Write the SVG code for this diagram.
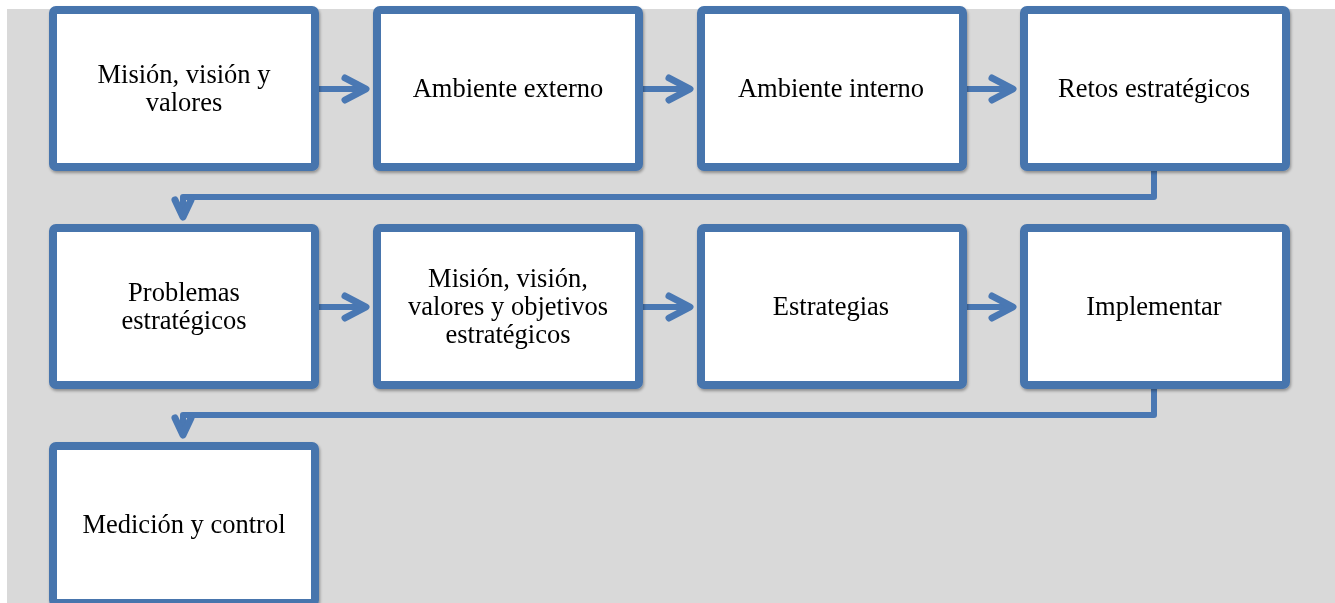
<svg xmlns="http://www.w3.org/2000/svg" width="1335" height="603" viewBox="0 0 1335 603">
  <style>
    .box { fill: #ffffff; stroke: #4674AD; stroke-width: 8; }
    .lbl { font-family: "Liberation Serif", "Times New Roman", serif; font-size: 26.5px; fill: #000000; text-anchor: middle; }
    .line { fill: none; stroke: #4A78B3; stroke-width: 6; stroke-linejoin: round; }
    .head { fill: none; stroke: #4A78B3; stroke-width: 7; stroke-linecap: round; stroke-linejoin: round; }
  </style>
  <defs>
    <filter id="shadow" x="-10%" y="-10%" width="120%" height="125%">
      <feGaussianBlur in="SourceAlpha" stdDeviation="1.5"/>
      <feOffset dx="1" dy="2" result="b"/>
      <feComponentTransfer><feFuncA type="linear" slope="0.35"/></feComponentTransfer>
      <feMerge><feMergeNode/><feMergeNode in="SourceGraphic"/></feMerge>
    </filter>
  </defs>

  <rect x="0" y="0" width="1335" height="603" fill="#ffffff"/>
  <rect x="7" y="9" width="1328" height="594" fill="#D9D9D9"/>

  <!-- connectors -->
  <g id="connectors">
    <!-- row 1 -->
    <line class="line" x1="319" y1="89" x2="365" y2="89"/>
    <polyline class="head" points="345,78 366,89 345,100"/>
    <line class="line" x1="643" y1="89" x2="689" y2="89"/>
    <polyline class="head" points="669,78 690,89 669,100"/>
    <line class="line" x1="967" y1="89" x2="1012" y2="89"/>
    <polyline class="head" points="992,78 1013,89 992,100"/>
    <!-- wrap row 1 to row 2 -->
    <polyline class="line" points="1154,171 1154,197 183,197 183,216"/>
    <polyline class="head" points="175,200 183,217 191,200"/>
    <!-- row 2 -->
    <line class="line" x1="319" y1="307" x2="365" y2="307"/>
    <polyline class="head" points="345,296 366,307 345,318"/>
    <line class="line" x1="643" y1="307" x2="689" y2="307"/>
    <polyline class="head" points="669,296 690,307 669,318"/>
    <line class="line" x1="967" y1="307" x2="1012" y2="307"/>
    <polyline class="head" points="992,296 1013,307 992,318"/>
    <!-- wrap row 2 to row 3 -->
    <polyline class="line" points="1154,389 1154,415 183,415 183,434"/>
    <polyline class="head" points="175,418 183,435 191,418"/>
  </g>

  <g id="n1" filter="url(#shadow)">
    <rect class="box" x="53" y="10" width="262" height="157" rx="3"/>
    <text class="lbl" x="184" y="83">Misión, visión y</text>
    <text class="lbl" x="184" y="111">valores</text>
  </g>
  <g id="n2" filter="url(#shadow)">
    <rect class="box" x="377" y="10" width="262" height="157" rx="3"/>
    <text class="lbl" x="508" y="97">Ambiente externo</text>
  </g>
  <g id="n3" filter="url(#shadow)">
    <rect class="box" x="701" y="10" width="262" height="157" rx="3"/>
    <text class="lbl" x="831" y="97">Ambiente interno</text>
  </g>
  <g id="n4" filter="url(#shadow)">
    <rect class="box" x="1024" y="10" width="262" height="157" rx="3"/>
    <text class="lbl" x="1154" y="97">Retos estratégicos</text>
  </g>

  <g id="n5" filter="url(#shadow)">
    <rect class="box" x="53" y="228" width="262" height="157" rx="3"/>
    <text class="lbl" x="184" y="301">Problemas</text>
    <text class="lbl" x="184" y="329">estratégicos</text>
  </g>
  <g id="n6" filter="url(#shadow)">
    <rect class="box" x="377" y="228" width="262" height="157" rx="3"/>
    <text class="lbl" x="508" y="287">Misión, visión,</text>
    <text class="lbl" x="508" y="315">valores y objetivos</text>
    <text class="lbl" x="508" y="343">estratégicos</text>
  </g>
  <g id="n7" filter="url(#shadow)">
    <rect class="box" x="701" y="228" width="262" height="157" rx="3"/>
    <text class="lbl" x="831" y="315">Estrategias</text>
  </g>
  <g id="n8" filter="url(#shadow)">
    <rect class="box" x="1024" y="228" width="262" height="157" rx="3"/>
    <text class="lbl" x="1154" y="315">Implementar</text>
  </g>

  <g id="n9" filter="url(#shadow)">
    <rect class="box" x="53" y="446" width="262" height="157" rx="3"/>
    <text class="lbl" x="184" y="533">Medición y control</text>
  </g>
</svg>
